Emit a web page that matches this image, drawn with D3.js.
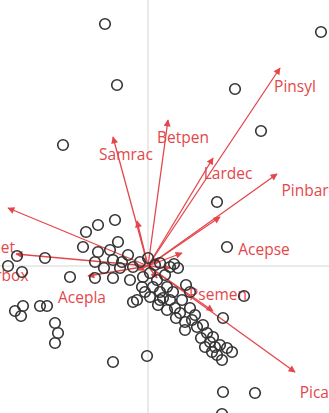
<!DOCTYPE html>
<html>
<head>
<meta charset="utf-8">
<script src="https://cdn.jsdelivr.net/npm/d3@7"></script>
<style>
  html, body { margin: 0; padding: 0; background: #fff; }
  svg { display: block; }
</style>
</head>
<body>
<svg id="chart" width="329" height="413"></svg>
<script>
// Site scores (ordination axes 1 and 2)
const siteX = [-0.43,-0.31,-0.85,1.73,0.87,1.13,0.69,0.79,-0.33,-0.50,-0.62,-0.65,-0.30,-1.03,-1.31,-1.26,-1.40,-0.53,-0.38,-0.35,
  -0.78,-0.53,-0.35,-0.15,-1.33,-1.25,-1.27,-1.08,-1.01,-0.93,-0.90,-0.93,-0.35,-0.01,0.75,1.07,0.74,
  0.42,0.96,0.75,0.05,0.10,0.19,0.15,0.32,0.37,0.44,0.49,0.59,0.62,0.67,0.69,0.74,0.79,0.84,0.28,0.53,0.57,0.64,
  -0.15,0.00,0.12,0.22,0.30,-0.18,-0.06,-0.11,0.02,0.09,0.19,0.25,0.02,0.42,-0.50,-0.26,-0.08,0.07,0.17,-0.05,0.12,0.22,0.34,0.38,0.26,
  -0.28,-0.20,-0.44,0.12,0.27,0.47,0.55,0.65,0.72,0.37,-0.03];
const siteY = [2.42,1.81,1.21,2.34,1.77,1.35,0.64,0.19,0.46,0.41,0.34,0.19,0.24,0.08,0.10,-0.06,0.00,0.04,0.16,0.06,
  -0.11,-0.12,-0.12,-0.36,-0.45,-0.40,-0.50,-0.40,-0.40,-0.57,-0.67,-0.77,-0.96,-0.90,-1.26,-1.27,-1.48,
  -0.26,-0.30,-0.52,-0.21,-0.39,-0.44,-0.32,-0.47,-0.64,-0.54,-0.61,-0.67,-0.76,-0.81,-0.89,-0.94,-0.82,-0.86,-0.52,-0.72,-0.81,-0.86,
  -0.01,0.08,0.03,-0.01,-0.02,-0.14,-0.21,-0.34,-0.07,-0.14,-0.21,-0.26,-0.31,-0.42,0.14,0.04,0.04,0.01,-0.09,-0.11,-0.26,-0.34,-0.34,-0.19,0.02,
  -0.02,0.11,-0.02,-0.34,-0.42,-0.49,-0.59,-0.71,-0.79,-0.56,-0.26];

// Species arrow tips
const arrowX = [1.32, 0.20, -0.35, 0.65, 1.29, 0.72, 0.34, -0.11, 1.47, 0.65, -1.40, -1.32, -0.60, 0.12, -0.10, 0.09, 0.22];
const arrowY = [1.98, 1.46, 1.29, 1.08, 0.92, 0.49, 0.13, 0.45, -1.06, -0.45, 0.58, 0.12, -0.10, 0.08, -0.04, -0.12, -0.02];

// Species labels
const labelNames = ["Pinsyl", "Betpen", "Samrac", "Lardec", "Pinbar", "Acepse", "Acepla", "Psemen", "Picabi", "Quepet", "Sorbox"];
const labelX = [1.47, 0.35, -0.22, 0.80, 1.57, 1.16, -0.66, 0.70, 1.73, -1.60, -1.45];
const labelY = [1.80, 1.29, 1.12, 0.93, 0.76, 0.17, -0.31, -0.28, -1.26, 0.19, -0.09];

const width = 329, height = 413;
const x = d3.scaleLinear().domain([-1.48, 1.81]).range([0, width]);
const y = d3.scaleLinear().domain([-1.47, 2.66]).range([height, 0]);

const svg = d3.select("#chart");
const red = "#e4474b";

// Zero lines
svg.append("line").attr("x1", x(0)).attr("x2", x(0)).attr("y1", 0).attr("y2", height)
  .attr("stroke", "#e3e3e3").attr("stroke-width", 1.5);
svg.append("line").attr("x1", 0).attr("x2", width).attr("y1", y(0)).attr("y2", y(0))
  .attr("stroke", "#e3e3e3").attr("stroke-width", 1.5);

// Arrowhead marker
svg.append("defs").append("marker")
  .attr("id", "head").attr("viewBox", "0 0 10 10")
  .attr("refX", 9).attr("refY", 5)
  .attr("markerWidth", 9).attr("markerHeight", 7)
  .attr("markerUnits", "userSpaceOnUse")
  .attr("orient", "auto")
  .append("path").attr("d", "M0,0 L10,5 L0,10 Z").attr("fill", red);

const arrows = d3.range(arrowX.length);
svg.append("g").selectAll("line").data(arrows).join("line")
  .attr("x1", x(0)).attr("y1", y(0))
  .attr("x2", i => x(arrowX[i])).attr("y2", i => y(arrowY[i]))
  .attr("stroke", red).attr("stroke-width", 1.3)
  .attr("marker-end", "url(#head)");

svg.append("g").selectAll("text").data(labelNames).join("text")
  .attr("x", (d, i) => x(labelX[i])).attr("y", (d, i) => y(labelY[i]))
  .attr("text-anchor", "middle").attr("dominant-baseline", "central")
  .attr("font-family", "'Open Sans', sans-serif").attr("font-size", 15.5)
  .attr("fill", red)
  .text(d => d);

// Sites
svg.append("g").selectAll("circle").data(siteX).join("circle")
  .attr("cx", d => x(d)).attr("cy", (d, i) => y(siteY[i]))
  .attr("r", 5.3)
  .attr("fill", "none").attr("stroke", "#333").attr("stroke-width", 1.6);
</script>
</body>
</html>
